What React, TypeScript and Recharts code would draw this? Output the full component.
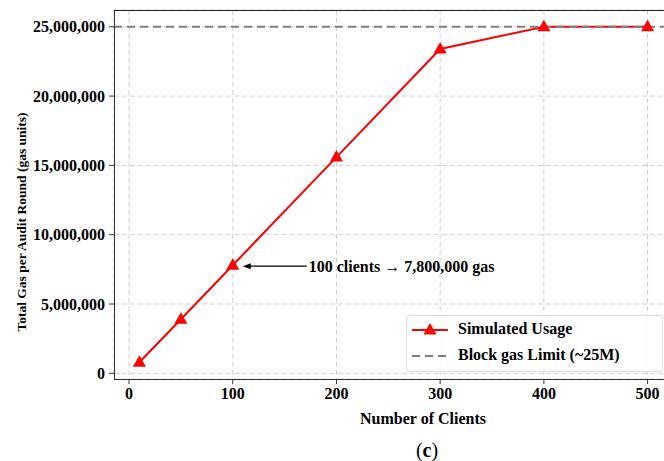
import { CartesianGrid, Line, LineChart, ReferenceDot, ReferenceLine, XAxis, YAxis } from "recharts";

const clients = [10, 50, 100, 200, 300, 400, 500];
const gasUsed = [800000, 3900000, 7800000, 15600000, 23400000, 25000000, 25000000];
const xTicks = [0, 100, 200, 300, 400, 500];
const yTicks = [0, 5000000, 10000000, 15000000, 20000000, 25000000];
const blockGasLimit = 25000000;
const note = { clients: 100, gas: 7800000, text: "100 clients \u2192 7,800,000 gas" };

const data = clients.map((c, i) => ({ clients: c, gas: gasUsed[i] }));

const serif = "'Liberation Serif', 'Times New Roman', serif";

const Triangle = (props: any) => {
  const { cx, cy } = props;
  if (cx == null || cy == null) return null;
  return <path d={`M${cx},${cy - 7} L${cx + 6.5},${cy + 4.5} L${cx - 6.5},${cy + 4.5} Z`} fill="#ff0000" />;
};

const NoteShape = (props: any) => {
  const { cx, cy } = props;
  return (
    <g>
      <line x1={cx + 16} y1={cy + 1} x2={cx + 74} y2={cy + 1} stroke="#000" strokeWidth={1.3} />
      <path d={`M${cx + 10},${cy + 1} L${cx + 18},${cy - 2} L${cx + 18},${cy + 4} Z`} fill="#000" />
      <text x={cx + 76} y={cy + 7} fontFamily={serif} fontWeight="bold" fontSize={16} fill="#000">
        {note.text}
      </text>
    </g>
  );
};

const fmt = (v: number) => v.toLocaleString("en-US");

export default function App() {
  return (
    <div style={{ position: "absolute", left: 0, top: 0, width: 664, height: 461, overflow: "hidden", background: "#fff" }}>
      <LineChart width={700} height={461} data={data} margin={{ top: 10, right: 27, bottom: 52, left: 0 }}>
        <CartesianGrid stroke="#d0d0d0" strokeDasharray="5 3" />
        <XAxis
          dataKey="clients"
          type="number"
          domain={[-14.5, 524.5]}
          ticks={xTicks}
          allowDataOverflow
          height={30}
          axisLine={false}
          tickLine={{ stroke: "#333" }}
          tickSize={5}
          tickMargin={4}
          tick={{ fill: "#000", fontFamily: serif, fontWeight: "bold", fontSize: 16 }}
        />
        <YAxis
          type="number"
          domain={[-410000, 26210000]}
          ticks={yTicks}
          allowDataOverflow
          width={114}
          axisLine={false}
          tickLine={{ stroke: "#333" }}
          tickSize={5}
          tickMargin={4}
          tickFormatter={fmt}
          tick={{ fill: "#000", fontFamily: serif, fontWeight: "bold", fontSize: 16 }}
        />
        <Line
          dataKey="gas"
          stroke="#ff0000"
          strokeWidth={2}
          dot={<Triangle />}
          activeDot={false}
          isAnimationActive={false}
        />
        <ReferenceLine y={blockGasLimit} stroke="#808080" strokeWidth={2.2} strokeDasharray="8 5" />
        <ReferenceDot x={note.clients} y={note.gas} r={0} shape={<NoteShape />} />
      </LineChart>
      {/* spines */}
      <div style={{ position: "absolute", left: 114, top: 10, width: 600, height: 368, borderTop: "1px solid #222", borderLeft: "1.5px solid #333", borderBottom: "1.5px solid #333", pointerEvents: "none" }} />
      {/* legend */}
      <div style={{ position: "absolute", left: 406, top: 315, width: 255, height: 55, border: "1px solid #ddd", borderRadius: 4, background: "rgba(255,255,255,0.85)", fontFamily: serif, fontWeight: "bold", fontSize: 16 }}>
        <svg width={44} height={55} style={{ position: "absolute", left: 0, top: 0 }}>
          <line x1={5} y1={14} x2={41} y2={14} stroke="#ff0000" strokeWidth={2} />
          <Triangle cx={23} cy={14} />
          <line x1={5} y1={40} x2={41} y2={40} stroke="#808080" strokeWidth={2.2} strokeDasharray="8 5" />
        </svg>
        <div style={{ position: "absolute", left: 51, top: 4, whiteSpace: "nowrap" }}>Simulated Usage</div>
        <div style={{ position: "absolute", left: 51, top: 30, whiteSpace: "nowrap" }}>Block gas Limit (~25M)</div>
      </div>
      {/* axis titles and caption */}
      <div style={{ position: "absolute", left: 22, top: 222, transform: "translate(-50%, -50%) rotate(-90deg)", whiteSpace: "nowrap", fontFamily: serif, fontWeight: "bold", fontSize: 13.5 }}>
        Total Gas per Audit Round (gas units)
      </div>
      <div style={{ position: "absolute", left: 423, top: 419, transform: "translate(-50%, -50%)", whiteSpace: "nowrap", fontFamily: serif, fontWeight: "bold", fontSize: 16 }}>
        Number of Clients
      </div>
      <div style={{ position: "absolute", left: 427, top: 450, transform: "translate(-50%, -50%)", whiteSpace: "nowrap", fontFamily: serif, fontSize: 20 }}>
        (<b>c</b>)
      </div>
    </div>
  );
}
